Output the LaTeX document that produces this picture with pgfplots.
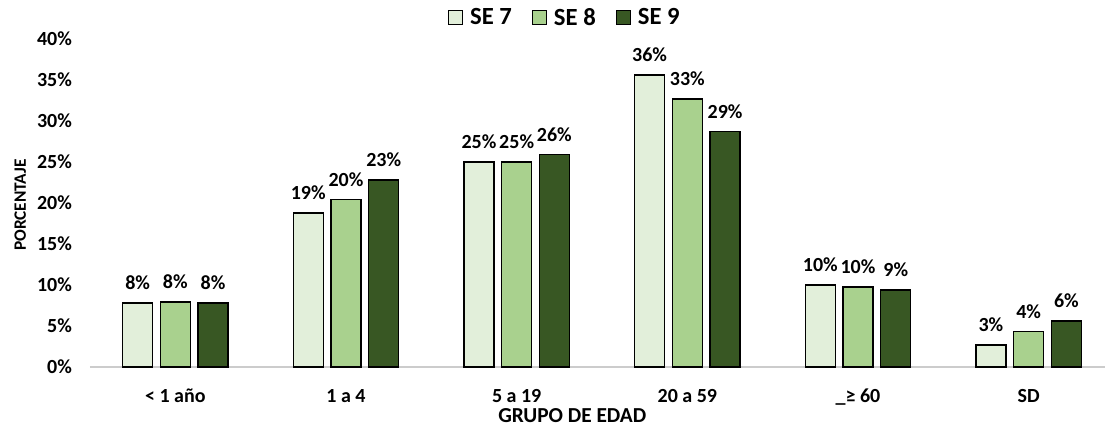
\documentclass[border=0pt]{standalone}
\usepackage{pgfplots}
\pgfplotsset{compat=1.18}
\usepackage{fontspec}
\setmainfont{Carlito}
\definecolor{se7}{HTML}{E2EFDA}
\definecolor{se8}{HTML}{A9D18E}
\definecolor{se9}{HTML}{385723}

\begin{document}
\begin{tikzpicture}
\useasboundingbox (-67.5pt,-44.25pt) rectangle (761.25pt,275.25pt);
\begin{axis}[
  at={(0,0)}, anchor=south west,
  scale only axis, width=768pt, height=246pt,
  ybar, bar width=0.176,
  xmin=-0.5, xmax=5.5, ymin=0, ymax=40,
  ytick={0,5,...,40},
  yticklabel={\pgfmathprintnumber{\tick}\%},
  /pgf/number format/assume math mode=true,
  xtick={0,...,5},
  xticklabels={< 1 año, 1 a 4, 5 a 19, 20 a 59, \_≥ 60, SD},
  axis x line=bottom, axis y line=left,
  x axis line style={-, draw=black!20, line width=1pt},
  y axis line style={draw=none},
  major tick length=0pt,
  ticklabel style={font=\bfseries\fontsize{15}{17}\selectfont},
  yticklabel style={anchor=east, xshift=-10pt},
  xticklabel style={yshift=-13pt},
  xlabel={GRUPO DE EDAD},
  ylabel={PORCENTAJE},
  xlabel style={font=\bfseries\fontsize{16}{18}\selectfont, inner sep=0pt,
    at={(axis description cs:0.471,0)}, anchor=center, yshift=-36.5pt},
  ylabel style={font=\bfseries\fontsize{13}{15}\selectfont,
    at={(axis description cs:-0.068,0.494)}, anchor=center},
  nodes near coords,
  point meta=explicit symbolic,
  every node near coord/.append style={font=\bfseries\fontsize{15}{17}\selectfont, color=black, yshift=6pt},
  legend style={at={(0.464,1)}, anchor=center, yshift=16pt, draw=none,
    legend columns=-1, font=\bfseries\fontsize{18.5}{21}\selectfont,
    /tikz/every odd column/.append style={column sep=3pt},
    /tikz/every even column/.append style={column sep=13pt}},
  legend image code/.code={\draw[#1, bar shift=0pt] (0pt,-5pt) rectangle (10.5pt,5.5pt);},
]
\addplot[fill=se7, draw=black, line width=1.1pt, bar shift=-0.221] coordinates {
  (0,7.8) [8\%] (1,18.8) [19\%] (2,25.0) [25\%] (3,35.6) [36\%] (4,10.0) [10\%] (5,2.7) [3\%]
};
\addplot[fill=se8, draw=black, line width=1.1pt, bar shift=0] coordinates {
  (0,7.9) [8\%] (1,20.4) [20\%] (2,25.0) [25\%] (3,32.7) [33\%] (4,9.75) [10\%] (5,4.3) [4\%]
};
\addplot[fill=se9, draw=black, line width=1.1pt, bar shift=0.221] coordinates {
  (0,7.8) [8\%] (1,22.8) [23\%] (2,25.9) [26\%] (3,28.7) [29\%] (4,9.4) [9\%] (5,5.6) [6\%]
};
\legend{SE 7, SE 8, SE 9}
\end{axis}
\end{tikzpicture}
\end{document}
